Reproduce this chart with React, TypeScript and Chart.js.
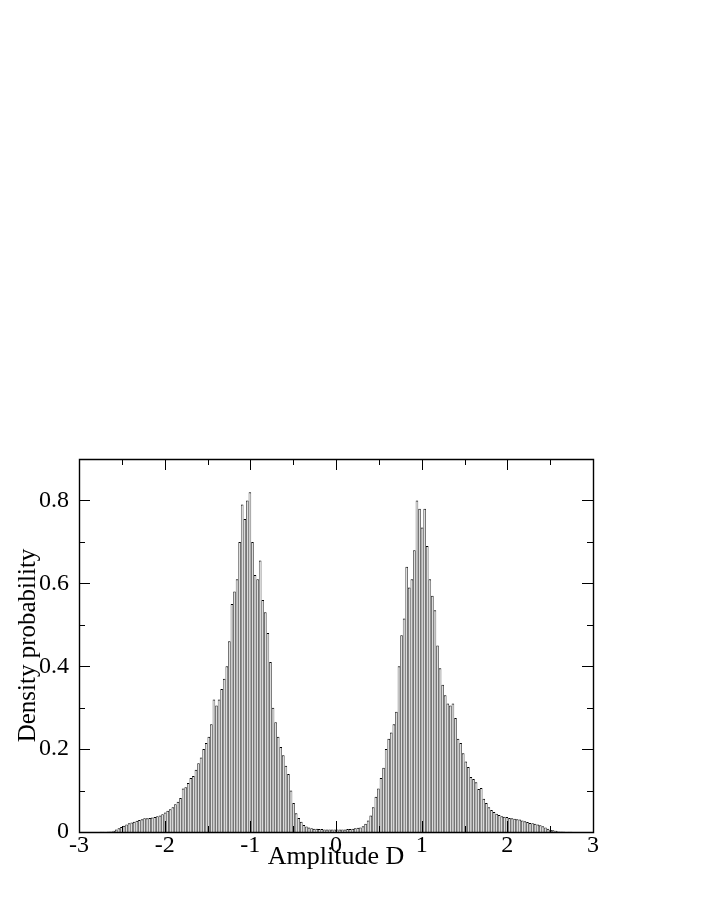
import React, { useEffect, useRef } from "react";
import { Chart, registerables } from "chart.js";

Chart.register(...registerables);

// Histogram bins: start and width (amplitude D)
const BIN_START = -3;
const BIN_WIDTH = 0.03;

// Density values for bins from -3.00 to -0.03
const densityNegative = [
  0, 0, 0, 0, 0.0001, 0.0001, 0.0002, 0.0003, 0.0004, 0.0006,
  0.0008, 0.001, 0.0015, 0.003, 0.006, 0.009, 0.012, 0.015, 0.018, 0.021,
  0.023, 0.025, 0.027, 0.029, 0.031, 0.033, 0.033, 0.034, 0.035, 0.036,
  0.038, 0.04, 0.043, 0.047, 0.051, 0.055, 0.06, 0.067, 0.073, 0.082,
  0.105, 0.108, 0.118, 0.13, 0.135, 0.15, 0.166, 0.18, 0.2, 0.215,
  0.23, 0.26, 0.32, 0.305, 0.32, 0.345, 0.37, 0.4, 0.46, 0.55,
  0.58, 0.61, 0.7, 0.79, 0.755, 0.8, 0.82, 0.7, 0.62, 0.61,
  0.655, 0.56, 0.53, 0.48, 0.41, 0.3, 0.265, 0.23, 0.205, 0.185,
  0.16, 0.14, 0.1, 0.07, 0.045, 0.034, 0.025, 0.017, 0.013, 0.011,
  0.009, 0.008, 0.008, 0.007, 0.007, 0.006, 0.006, 0.006, 0.006, 0.006,
];

// Density values for bins from 0.00 to 2.97
const densityPositive = [
  0.006, 0.006, 0.006, 0.006, 0.007, 0.007, 0.008, 0.009, 0.01, 0.011,
  0.014, 0.02, 0.028, 0.04, 0.06, 0.085, 0.105, 0.13, 0.155, 0.2,
  0.225, 0.24, 0.26, 0.29, 0.4, 0.475, 0.515, 0.64, 0.59, 0.61,
  0.68, 0.8, 0.78, 0.735, 0.78, 0.69, 0.61, 0.57, 0.535, 0.45,
  0.395, 0.355, 0.33, 0.31, 0.305, 0.31, 0.275, 0.225, 0.215, 0.19,
  0.17, 0.157, 0.133, 0.128, 0.12, 0.104, 0.106, 0.08, 0.07, 0.06,
  0.053, 0.048, 0.044, 0.041, 0.038, 0.037, 0.036, 0.034, 0.033, 0.032,
  0.031, 0.03, 0.028, 0.026, 0.024, 0.022, 0.021, 0.02, 0.018, 0.016,
  0.014, 0.011, 0.008, 0.005, 0.004, 0.003, 0.002, 0.0015, 0.001, 0.0008,
  0.0006, 0.0004, 0.0003, 0.0002, 0.0001, 0.0001, 0, 0, 0, 0,
];

const xMajorTicks = [-3, -2, -1, 0, 1, 2, 3];
const xMinorTicks = [-2.5, -1.5, -0.5, 0.5, 1.5, 2.5];
const yMajorTicks = [0, 0.2, 0.4, 0.6, 0.8];
const yMinorTicks = [0.1, 0.3, 0.5, 0.7];

const X_MIN = -3;
const X_MAX = 3;
const Y_MIN = 0;
const Y_MAX = 0.9;

const X_TITLE = "Amplitude D";
const Y_TITLE = "Density probability";

const FONT = "'Liberation Serif', 'Times New Roman', serif";

const framePlugin = {
  id: "frameTicks",
  afterDraw(chart: any) {
    const { ctx, chartArea, scales } = chart;
    const { left, right, top, bottom } = chartArea;
    const xs = scales.x;
    const ys = scales.y;
    const snap = (v: number) => Math.round(v) + 0.5;
    ctx.save();
    ctx.strokeStyle = "#000";
    ctx.lineWidth = 1.4;
    ctx.beginPath();
    ctx.rect(snap(left), snap(top), Math.round(right) - Math.round(left), Math.round(bottom) - Math.round(top));
    ctx.stroke();
    ctx.lineWidth = 1;
    const drawX = (vals: number[], len: number) => {
      vals.forEach((v) => {
        const px = snap(xs.getPixelForValue(v));
        ctx.beginPath();
        ctx.moveTo(px, bottom);
        ctx.lineTo(px, bottom - len);
        ctx.moveTo(px, top);
        ctx.lineTo(px, top + len);
        ctx.stroke();
      });
    };
    const drawY = (vals: number[], len: number) => {
      vals.forEach((v) => {
        const py = snap(ys.getPixelForValue(v));
        ctx.beginPath();
        ctx.moveTo(left, py);
        ctx.lineTo(left + len, py);
        ctx.moveTo(right, py);
        ctx.lineTo(right - len, py);
        ctx.stroke();
      });
    };
    drawX(xMajorTicks, 11);
    drawX(xMinorTicks, 6);
    drawY(yMajorTicks, 11);
    drawY(yMinorTicks, 6);
    ctx.restore();
  },
};

export default function App() {
  const canvasRef = useRef<HTMLCanvasElement | null>(null);

  useEffect(() => {
    const canvas = canvasRef.current;
    if (!canvas) return;
    const density = [...densityNegative, ...densityPositive];
    const points = density.map((v, i) => ({
      x: BIN_START + BIN_WIDTH * (i + 0.5),
      y: v,
    }));

    const chart = new Chart(canvas, {
      type: "bar",
      data: {
        datasets: [
          {
            data: points as any,
            backgroundColor: "#dcdcdc",
            borderColor: "#000000",
            borderWidth: { top: 1, left: 0.7, right: 0.7, bottom: 0 } as any,
            borderSkipped: false,
            barPercentage: 1,
            categoryPercentage: 1,
            inflateAmount: 0,
          } as any,
        ],
      },
      options: {
        responsive: false,
        animation: false,
        devicePixelRatio: 1,
        layout: { padding: { top: 459, right: 113, left: 0, bottom: 0 } },
        plugins: {
          legend: { display: false },
          tooltip: { enabled: false },
        },
        scales: {
          x: {
            type: "linear",
            min: X_MIN,
            max: X_MAX,
            offset: false,
            grid: { display: false, drawTicks: false },
            border: { display: false },
            afterBuildTicks: (scale: any) => {
              scale.ticks = xMajorTicks.map((v) => ({ value: v }));
            },
            afterFit: (scale: any) => {
              scale.height = 81;
            },
            ticks: {
              autoSkip: false,
              maxRotation: 0,
              padding: -1,
              color: "#000",
              font: { family: FONT, size: 24 },
              callback: (v: any) => String(v),
            },
            title: {
              display: true,
              text: X_TITLE,
              color: "#000",
              font: { family: FONT, size: 26 },
              padding: { top: 0, bottom: 40 },
            },
          },
          y: {
            type: "linear",
            min: Y_MIN,
            max: Y_MAX,
            grid: { display: false, drawTicks: false },
            border: { display: false },
            afterBuildTicks: (scale: any) => {
              scale.ticks = yMajorTicks.map((v) => ({ value: v }));
            },
            afterFit: (scale: any) => {
              scale.width = 79;
            },
            ticks: {
              autoSkip: false,
              padding: 10,
              color: "#000",
              font: { family: FONT, size: 24 },
              callback: (v: any) => String(v),
            },
            title: {
              display: true,
              text: Y_TITLE,
              color: "#000",
              font: { family: FONT, size: 25 },
              padding: { top: 13, bottom: 0 },
            },
          },
        },
      },
      plugins: [framePlugin],
    });

    return () => {
      chart.destroy();
    };
  }, []);

  return (
    <canvas
      ref={canvasRef}
      width={706}
      height={913}
      style={{ position: "absolute", left: 0, top: 0, width: 706, height: 913, display: "block" }}
    />
  );
}
